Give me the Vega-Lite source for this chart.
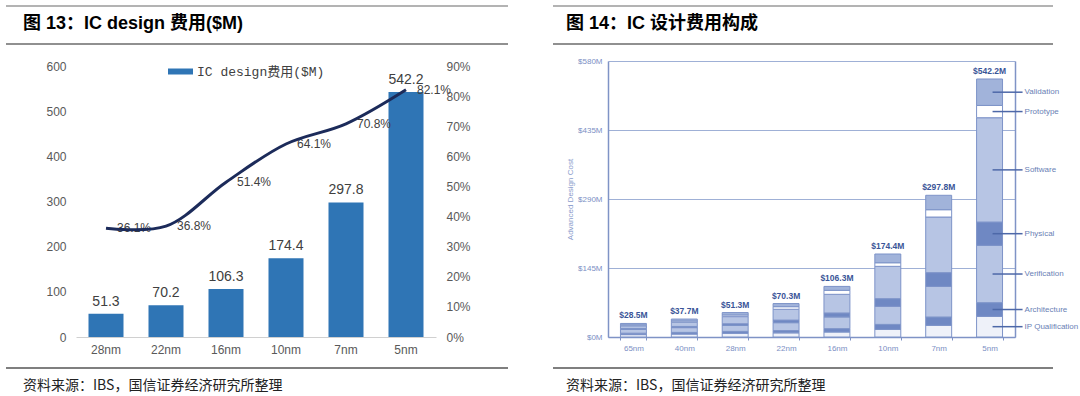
{
  "$schema": "https://vega.github.io/schema/vega-lite/v6.json",
  "background": "#ffffff",
  "padding": {"left": 5, "top": 5, "right": 0, "bottom": 0},
  "config": {"view": {"stroke": null}, "font": "Liberation Sans"},
  "spacing": 43,
  "resolve": {"scale": {"color": "independent"}, "legend": {"color": "independent"}},
  "datasets": {
    "ic": [
      {"node": "28nm", "cost": 51.3, "share": 0.361},
      {"node": "22nm", "cost": 70.2, "share": 0.368},
      {"node": "16nm", "cost": 106.3, "share": 0.514},
      {"node": "10nm", "cost": 174.4, "share": 0.641},
      {"node": "7nm", "cost": 297.8, "share": 0.708},
      {"node": "5nm", "cost": 542.2, "share": 0.821}
    ],
    "totals": [
      {"node": "65nm", "total": 28.5, "label": "$28.5M"},
      {"node": "40nm", "total": 37.7, "label": "$37.7M"},
      {"node": "28nm", "total": 51.3, "label": "$51.3M"},
      {"node": "22nm", "total": 70.3, "label": "$70.3M"},
      {"node": "16nm", "total": 106.3, "label": "$106.3M"},
      {"node": "10nm", "total": 174.4, "label": "$174.4M"},
      {"node": "7nm", "total": 297.8, "label": "$297.8M"},
      {"node": "5nm", "total": 542.2, "label": "$542.2M"}
    ],
    "parts": [
      {"node": "65nm", "part": "IP Qualification", "cost": 5},
      {"node": "65nm", "part": "Architecture", "cost": 3},
      {"node": "65nm", "part": "Verification", "cost": 8},
      {"node": "65nm", "part": "Physical", "cost": 2},
      {"node": "65nm", "part": "Software", "cost": 5.5},
      {"node": "65nm", "part": "Prototype", "cost": 2},
      {"node": "65nm", "part": "Validation", "cost": 3},
      {"node": "40nm", "part": "IP Qualification", "cost": 6.2},
      {"node": "40nm", "part": "Architecture", "cost": 3.5},
      {"node": "40nm", "part": "Verification", "cost": 10},
      {"node": "40nm", "part": "Physical", "cost": 2.5},
      {"node": "40nm", "part": "Software", "cost": 9},
      {"node": "40nm", "part": "Prototype", "cost": 2.5},
      {"node": "40nm", "part": "Validation", "cost": 4},
      {"node": "28nm", "part": "IP Qualification", "cost": 7.8},
      {"node": "28nm", "part": "Architecture", "cost": 4},
      {"node": "28nm", "part": "Verification", "cost": 12.5},
      {"node": "28nm", "part": "Physical", "cost": 3.5},
      {"node": "28nm", "part": "Software", "cost": 15},
      {"node": "28nm", "part": "Prototype", "cost": 3.5},
      {"node": "28nm", "part": "Validation", "cost": 5},
      {"node": "22nm", "part": "IP Qualification", "cost": 8.7},
      {"node": "22nm", "part": "Architecture", "cost": 4.7},
      {"node": "22nm", "part": "Verification", "cost": 16.7},
      {"node": "22nm", "part": "Physical", "cost": 5.4},
      {"node": "22nm", "part": "Software", "cost": 22.8},
      {"node": "22nm", "part": "Prototype", "cost": 5.4},
      {"node": "22nm", "part": "Validation", "cost": 6.6},
      {"node": "16nm", "part": "IP Qualification", "cost": 10.5},
      {"node": "16nm", "part": "Architecture", "cost": 7},
      {"node": "16nm", "part": "Verification", "cost": 24.6},
      {"node": "16nm", "part": "Physical", "cost": 8.4},
      {"node": "16nm", "part": "Software", "cost": 39.2},
      {"node": "16nm", "part": "Prototype", "cost": 8.4},
      {"node": "16nm", "part": "Validation", "cost": 8.2},
      {"node": "10nm", "part": "IP Qualification", "cost": 16},
      {"node": "10nm", "part": "Architecture", "cost": 10.5},
      {"node": "10nm", "part": "Verification", "cost": 38},
      {"node": "10nm", "part": "Physical", "cost": 16},
      {"node": "10nm", "part": "Software", "cost": 68},
      {"node": "10nm", "part": "Prototype", "cost": 7.5},
      {"node": "10nm", "part": "Validation", "cost": 18.4},
      {"node": "7nm", "part": "IP Qualification", "cost": 24.5},
      {"node": "7nm", "part": "Architecture", "cost": 17.5},
      {"node": "7nm", "part": "Verification", "cost": 64.4},
      {"node": "7nm", "part": "Physical", "cost": 28.8},
      {"node": "7nm", "part": "Software", "cost": 116.9},
      {"node": "7nm", "part": "Prototype", "cost": 15.4},
      {"node": "7nm", "part": "Validation", "cost": 30.3},
      {"node": "5nm", "part": "IP Qualification", "cost": 43.4},
      {"node": "5nm", "part": "Architecture", "cost": 28.7},
      {"node": "5nm", "part": "Verification", "cost": 120.5},
      {"node": "5nm", "part": "Physical", "cost": 49},
      {"node": "5nm", "part": "Software", "cost": 219.2},
      {"node": "5nm", "part": "Prototype", "cost": 25.9},
      {"node": "5nm", "part": "Validation", "cost": 55.5}
    ]
  },
  "hconcat": [
    {
      "spacing": 0,
      "vconcat": [
        {
          "width": 502, "height": 38,
          "layer": [
            {"data": {"values": [{"edge": "top"}]}, "mark": {"type": "rule", "color": "#9a9a9a", "strokeWidth": 1.5},
             "encoding": {"y": {"field": "edge", "type": "nominal", "scale": {"type": "point", "domain": ["top", "mid", "bottom"], "padding": 0}, "axis": null}}},
            {"data": {"values": [{"edge": "bottom"}]}, "mark": {"type": "rule", "color": "#222222", "strokeWidth": 1.2},
             "encoding": {"y": {"field": "edge", "type": "nominal", "axis": null}}},
            {"data": {"values": [{"edge": "mid", "side": "start", "label": "图 13：IC design 费用($M)"}]},
             "mark": {"type": "text", "align": "left", "baseline": "middle", "dx": 17, "dy": -1, "fontSize": 18, "fontWeight": "bold", "color": "#000000", "font": "Liberation Sans, Noto Sans CJK SC"},
             "encoding": {
               "y": {"field": "edge", "type": "nominal", "axis": null},
               "x": {"field": "side", "type": "nominal", "scale": {"type": "point", "domain": ["start", "end"], "padding": 0}, "axis": null},
               "text": {"field": "label"}}}
          ]
        },
        {
          "width": 502, "height": 322,
          "data": {"name": "ic"},
          "encoding": {
            "x": {"field": "node", "type": "nominal",
              "scale": {"domain": ["28nm", "22nm", "16nm", "10nm", "7nm", "5nm"], "range": [70, 430], "paddingInner": 0.4167, "paddingOuter": 0.2083},
              "axis": {"title": null, "offset": -30, "labelAngle": 0, "ticks": false, "tickSize": 0, "domainColor": "#d0d0d0", "domainWidth": 1, "labelColor": "#595959", "labelFontSize": 12, "labelPadding": 7}}
          },
          "layer": [
            {
              "encoding": {"y": {"field": "cost", "type": "quantitative",
                "scale": {"domain": [0, 600], "range": [292, 21], "nice": false},
                "axis": {"orient": "left", "offset": -62, "values": [0, 100, 200, 300, 400, 500, 600], "title": null, "domain": false, "ticks": false, "tickSize": 0, "grid": false, "labelPadding": 2, "labelColor": "#595959", "labelFontSize": 12}}},
              "layer": [
                {"mark": {"type": "bar"},
                 "encoding": {"color": {"datum": "IC design费用($M)", "type": "nominal", "scale": {"range": ["#2f75b5"]},
                   "legend": {"orient": "none", "legendX": 162, "legendY": 53, "title": null, "padding": 0, "offset": 0, "symbolType": "M-1,-0.24H1V0.24H-1Z", "symbolSize": 625, "symbolStrokeWidth": 0, "labelFont": "Liberation Mono, Noto Sans CJK SC", "labelFontSize": 13, "labelColor": "#404040", "labelOffset": 4}}}},
                {"mark": {"type": "text", "baseline": "bottom", "dy": -5, "fontSize": 14, "color": "#404040"},
                 "encoding": {"text": {"field": "cost", "type": "quantitative", "format": ".1f"}}}
              ]
            },
            {
              "encoding": {"y": {"field": "share", "type": "quantitative",
                "scale": {"domain": [0, 0.9], "range": [292, 21], "nice": false},
                "axis": {"orient": "right", "offset": -64, "values": [0, 0.1, 0.2, 0.3, 0.4, 0.5, 0.6, 0.7, 0.8, 0.9], "format": ".0%", "title": null, "domain": false, "ticks": false, "tickSize": 0, "grid": false, "labelPadding": 2, "labelColor": "#595959", "labelFontSize": 12}}},
              "layer": [
                {"mark": {"type": "text", "align": "left", "dx": 11, "baseline": "middle", "fontSize": 12, "color": "#404040"},
                 "encoding": {"text": {"field": "share", "type": "quantitative", "format": ".1%"}}},
                {"mark": {"type": "line", "interpolate": "catmull-rom", "color": "#1c2b5a", "strokeWidth": 3}, "encoding": {}}
              ]
            }
          ],
          "resolve": {"scale": {"y": "independent"}}
        },
        {
          "width": 502, "height": 31,
          "layer": [
            {"data": {"values": [{"edge": "top"}]}, "mark": {"type": "rule", "color": "#555555", "strokeWidth": 1.5},
             "encoding": {"y": {"field": "edge", "type": "nominal", "scale": {"type": "point", "domain": ["top", "mid", "bottom"], "padding": 0}, "axis": null}}},
            {"data": {"values": [{"edge": "mid", "side": "start", "label": "资料来源：IBS，国信证券经济研究所整理"}]},
             "mark": {"type": "text", "align": "left", "baseline": "middle", "dx": 17, "dy": 2, "fontSize": 14, "color": "#222222", "font": "Noto Sans CJK SC"},
             "encoding": {
               "y": {"field": "edge", "type": "nominal", "axis": null},
               "x": {"field": "side", "type": "nominal", "scale": {"type": "point", "domain": ["start", "end"], "padding": 0}, "axis": null},
               "text": {"field": "label"}}}
          ]
        }
      ]
    },
    {
      "spacing": 0,
      "vconcat": [
        {
          "width": 500, "height": 38,
          "layer": [
            {"data": {"values": [{"edge": "top"}]}, "mark": {"type": "rule", "color": "#9a9a9a", "strokeWidth": 1.5},
             "encoding": {"y": {"field": "edge", "type": "nominal", "scale": {"type": "point", "domain": ["top", "mid", "bottom"], "padding": 0}, "axis": null}}},
            {"data": {"values": [{"edge": "bottom"}]}, "mark": {"type": "rule", "color": "#222222", "strokeWidth": 1.2},
             "encoding": {"y": {"field": "edge", "type": "nominal", "axis": null}}},
            {"data": {"values": [{"edge": "mid", "side": "start", "label": "图 14：IC 设计费用构成"}]},
             "mark": {"type": "text", "align": "left", "baseline": "middle", "dx": 13, "dy": -1, "fontSize": 18, "fontWeight": "bold", "color": "#000000", "font": "Liberation Sans, Noto Sans CJK SC"},
             "encoding": {
               "y": {"field": "edge", "type": "nominal", "axis": null},
               "x": {"field": "side", "type": "nominal", "scale": {"type": "point", "domain": ["start", "end"], "padding": 0}, "axis": null},
               "text": {"field": "label"}}}
          ]
        },
        {
          "width": 500, "height": 322,
          "data": {"name": "parts"},
          "encoding": {
            "x": {"field": "node", "type": "nominal",
              "scale": {"domain": ["65nm", "40nm", "28nm", "22nm", "16nm", "10nm", "7nm", "5nm"], "range": [55, 462], "paddingInner": 0.49, "paddingOuter": 0.245},
              "axis": {"title": null, "offset": -30, "labelAngle": 0, "ticks": true, "tickBand": "extent", "tickSize": 3, "tickColor": "#7f93c6", "domainColor": "#7f93c6", "domainWidth": 1.5, "labelColor": "#7b8fc4", "labelFontSize": 8, "labelPadding": 4}}
          },
          "layer": [
            {
              "layer": [
                {"transform": [{"stack": "cost", "groupby": ["node"], "as": ["lo", "hi"]}],
                 "mark": {"type": "bar", "stroke": "#7d93c8", "strokeWidth": 1},
                 "encoding": {
                   "y": {"field": "lo", "type": "quantitative", "scale": {"domain": [0, 580], "range": [292, 16], "nice": false},
                     "axis": {"orient": "left", "offset": -55, "values": [0, 145, 290, 435, 580], "labelExpr": "'$' + datum.value + 'M'", "title": "Advanced Design Cost", "titleFontSize": 8, "titleFontWeight": "normal", "titleColor": "#8a9ccc", "titlePadding": 3, "domain": true, "domainColor": "#7f93c6", "domainWidth": 1.5, "ticks": false, "tickSize": 0, "grid": true, "gridColor": "#9fb0d6", "gridWidth": 1.2, "labelPadding": 6, "labelColor": "#7b8fc4", "labelFontSize": 8}},
                   "y2": {"field": "hi"},
                   "color": {"field": "part", "type": "nominal",
                     "scale": {"domain": ["IP Qualification", "Architecture", "Verification", "Physical", "Software", "Prototype", "Validation"], "range": ["#eef1f9", "#6f88c3", "#b7c5e4", "#6f88c3", "#b7c5e4", "#ffffff", "#a1b3da"]},
                     "legend": null}
                 }},
                {"data": {"name": "totals"},
                 "mark": {"type": "text", "baseline": "bottom", "dy": -3, "fontSize": 8.5, "fontWeight": "bold", "color": "#3a5598"},
                 "encoding": {
                   "y": {"field": "total", "type": "quantitative",
                     "axis": {"orient": "left", "offset": -55, "values": [0, 145, 290, 435, 580], "labelExpr": "'$' + datum.value + 'M'", "title": "Advanced Design Cost", "titleFontSize": 8, "titleFontWeight": "normal", "titleColor": "#8a9ccc", "titlePadding": 3, "domain": true, "domainColor": "#7f93c6", "domainWidth": 1.5, "ticks": false, "tickSize": 0, "grid": true, "gridColor": "#9fb0d6", "gridWidth": 1.2, "labelPadding": 6, "labelColor": "#7b8fc4", "labelFontSize": 8}},
                   "text": {"field": "label"}
                 }}
              ]
            },
            {
              "transform": [
                {"filter": "datum.node === '5nm'"},
                {"stack": "cost", "groupby": ["node"], "as": ["lo", "hi"]},
                {"calculate": "(datum.lo + datum.hi) / 2", "as": "mid"}
              ],
              "encoding": {"y": {"field": "mid", "type": "quantitative", "scale": {"domain": [0, 580], "range": [292, 16], "nice": false},
                "axis": {"orient": "right", "offset": -38, "labels": false, "ticks": false, "tickSize": 0, "grid": false, "domain": true, "domainColor": "#7f93c6", "domainWidth": 1.5, "title": null}}},
              "layer": [
                {"mark": {"type": "tick", "orient": "horizontal", "size": 30, "thickness": 1.5, "xOffset": 18, "color": "#4d68a8", "opacity": 1}, "encoding": {}},
                {"mark": {"type": "text", "align": "left", "dx": 35, "baseline": "middle", "fontSize": 8, "color": "#6a7fb5"},
                 "encoding": {"text": {"field": "part"}}}
              ]
            }
          ],
          "resolve": {"scale": {"y": "independent"}}
        },
        {
          "width": 500, "height": 31,
          "layer": [
            {"data": {"values": [{"edge": "top"}]}, "mark": {"type": "rule", "color": "#555555", "strokeWidth": 1.5},
             "encoding": {"y": {"field": "edge", "type": "nominal", "scale": {"type": "point", "domain": ["top", "mid", "bottom"], "padding": 0}, "axis": null}}},
            {"data": {"values": [{"edge": "mid", "side": "start", "label": "资料来源：IBS，国信证券经济研究所整理"}]},
             "mark": {"type": "text", "align": "left", "baseline": "middle", "dx": 13, "dy": 2, "fontSize": 14, "color": "#222222", "font": "Noto Sans CJK SC"},
             "encoding": {
               "y": {"field": "edge", "type": "nominal", "axis": null},
               "x": {"field": "side", "type": "nominal", "scale": {"type": "point", "domain": ["start", "end"], "padding": 0}, "axis": null},
               "text": {"field": "label"}}}
          ]
        }
      ]
    }
  ]
}
